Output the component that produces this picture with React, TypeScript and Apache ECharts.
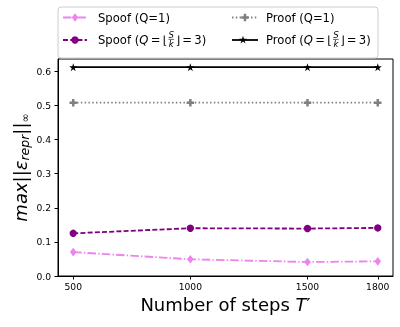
import React, { useEffect, useRef } from "react";
import * as echarts from "echarts";

const steps = [500, 1000, 1500, 1800];
const spoofQ1 = [0.07, 0.049, 0.041, 0.043];
const spoofQ3 = [0.125, 0.14, 0.139, 0.141];
const proofQ1 = [0.508, 0.508, 0.508, 0.508];
const proofQ3 = [0.612, 0.612, 0.612, 0.612];
const xTicks = [500, 1000, 1500, 1800];
const yTicks = [0, 0.1, 0.2, 0.3, 0.4, 0.5, 0.6];

const FONT = "DejaVu Sans";
const TS = "\u2009";

function starPts(cx: number, cy: number, r: number): number[][] {
  const pts: number[][] = [];
  for (let i = 0; i < 10; i++) {
    const rr = i % 2 === 0 ? r : r * 0.382;
    const a = -Math.PI / 2 + (i * Math.PI) / 5;
    pts.push([cx + rr * Math.cos(a), cy + rr * Math.sin(a)]);
  }
  return pts;
}
function starPath(): string {
  const p = starPts(0, 0, 10);
  return "path://M" + p.map((q) => q[0].toFixed(2) + "," + q[1].toFixed(2)).join("L") + "Z";
}
const plusPath = "path://M-1,-3H1V-1H3V1H1V3H-1V1H-3V-1H-1Z";
function plusPts(cx: number, cy: number, s: number): number[][] {
  const a = s / 6;
  const raw = [[-1, -3], [1, -3], [1, -1], [3, -1], [3, 1], [1, 1], [1, 3], [-1, 3], [-1, 1], [-3, 1], [-3, -1], [-1, -1]];
  return raw.map((q) => [cx + q[0] * a, cy + q[1] * a]);
}

function measure(s: string, size: number, italic = false): number {
  const c = document.createElement("canvas").getContext("2d")!;
  c.font = `${italic ? "italic " : ""}${size}px "${FONT}"`;
  return c.measureText(s).width;
}

export default function App() {
  const ref = useRef<HTMLDivElement>(null);
  useEffect(() => {
    const chart = echarts.init(ref.current!, null, { renderer: "svg" });
    const LS = 11.6;
    const LW = 1.8;
    const row1 = 17.5;
    const row2 = 40;
    const c1 = { l0: 63, l1: 87, m: 75, t: 98 };
    const c2 = { l0: 232, l1: 258, m: 245, t: 266 };

    const graphics: any[] = [];
    graphics.push({
      type: "rect",
      shape: { x: 58, y: 7, width: 320, height: 51, r: 3 },
      style: { fill: "rgba(255,255,255,0.85)", stroke: "#cccccc", lineWidth: 1 },
      z: 100,
    });
    const handle = (c: any, y: number, color: string, dash: any) => {
      graphics.push({
        type: "line",
        shape: { x1: c.l0, y1: y, x2: c.l1, y2: y },
        style: { stroke: color, lineWidth: LW, lineDash: dash },
        z: 101,
      });
    };
    handle(c1, row1, "#ee82ee", [8.5, 2.2, 1.4, 2.2]);
    graphics.push({
      type: "polygon",
      shape: { points: [[c1.m, row1 - 4.3], [c1.m + 3.2, row1], [c1.m, row1 + 4.3], [c1.m - 3.2, row1]] },
      style: { fill: "#ee82ee" },
      z: 102,
    });
    handle(c1, row2, "#800080", [5, 2.2]);
    graphics.push({ type: "circle", shape: { cx: c1.m, cy: row2, r: 3.7 }, style: { fill: "#800080" }, z: 102 });
    handle(c2, row1, "#808080", [1.5, 2.3]);
    graphics.push({ type: "polygon", shape: { points: plusPts(c2.m, row1, 7.5) }, style: { fill: "#808080" }, z: 102 });
    handle(c2, row2, "#000000", null);
    graphics.push({ type: "polygon", shape: { points: starPts(c2.m - 2, row2, 4.2) }, style: { fill: "#000000" }, z: 102 });

    const richBase = {
      n: { fontFamily: FONT, fontSize: LS, color: "#000" },
      i: { fontFamily: FONT, fontSize: LS, fontStyle: "italic", color: "#000" },
    };
    graphics.push({
      type: "text",
      x: c1.t,
      y: row1,
      style: { text: "Spoof (Q=1)", fontFamily: FONT, fontSize: LS, fill: "#000", verticalAlign: "middle", align: "left" },
      z: 103,
    });
    graphics.push({
      type: "text",
      x: c2.t,
      y: row1,
      style: { text: "Proof (Q=1)", fontFamily: FONT, fontSize: LS, fill: "#000", verticalAlign: "middle", align: "left" },
      z: 103,
    });
    const mathLabel = (word: string, x0: number) => {
      const pre = word + " (";
      const mid = TS + "=" + TS + "⌊";
      const wA = measure(pre, LS) + measure("Q", LS, true) + measure(mid, LS);
      graphics.push({
        type: "text",
        x: x0,
        y: row2,
        style: { text: `{n|${pre}}{i|Q}{n|${mid}}`, rich: richBase, verticalAlign: "middle", align: "left" },
        z: 103,
      });
      const fw = 7;
      const fx = x0 + wA + fw / 2 + 0.6;
      graphics.push({
        type: "text",
        x: fx,
        y: row2 - 5,
        style: { text: "S", fontFamily: FONT, fontSize: 8.5, fontStyle: "italic", fill: "#000", align: "center", verticalAlign: "middle" },
        z: 103,
      });
      graphics.push({
        type: "text",
        x: fx,
        y: row2 + 4.2,
        style: { text: "k", fontFamily: FONT, fontSize: 8.5, fontStyle: "italic", fill: "#000", align: "center", verticalAlign: "middle" },
        z: 103,
      });
      graphics.push({
        type: "line",
        shape: { x1: fx - 2.8, y1: row2 - 0.6, x2: fx + 2.8, y2: row2 - 0.6 },
        style: { stroke: "#000", lineWidth: 0.6 },
        z: 103,
      });
      graphics.push({
        type: "text",
        x: x0 + wA + fw + 1.2,
        y: row2,
        style: { text: "⌋" + TS + "=" + TS + "3)", fontFamily: FONT, fontSize: LS, fill: "#000", verticalAlign: "middle", align: "left" },
        z: 103,
      });
    };
    mathLabel("Spoof", c1.t);
    mathLabel("Proof", c2.t);

    graphics.push({
      type: "text",
      x: 20,
      y: 167.5,
      rotation: Math.PI / 2,
      style: {
        text: "{a|max}{b|||}{a|ε}{s|repr}{b|||}{t|∞}",
        align: "center",
        verticalAlign: "middle",
        rich: {
          a: { fontFamily: FONT, fontSize: 18, fontStyle: "italic", color: "#000", lineHeight: 22 },
          b: { fontFamily: FONT, fontSize: 18, color: "#000", lineHeight: 22 },
          s: { fontFamily: FONT, fontSize: 12.5, fontStyle: "italic", color: "#000", lineHeight: 12, verticalAlign: "bottom" },
          t: { fontFamily: FONT, fontSize: 11, color: "#000", lineHeight: 10, verticalAlign: "bottom" },
        },
      },
    });

    const mk = (vals: number[]) => steps.map((s, k) => [s, vals[k]]);

    chart.setOption({
      animation: false,
      grid: { left: 58, right: 7, top: 59, bottom: 51, show: true, borderColor: "#000", borderWidth: 1, backgroundColor: "transparent" },
      xAxis: {
        type: "value",
        min: 435,
        max: 1865,
        axisLine: { show: true, lineStyle: { color: "#000", width: 1 } },
        axisTick: { show: true, customValues: xTicks, length: 3.5, lineStyle: { color: "#000", width: 1 } },
        axisLabel: { customValues: xTicks, fontFamily: FONT, fontSize: 9.2, color: "#000", margin: 6, formatter: (v: number) => String(v) },
        splitLine: { show: false },
        name: "{n|Number of steps }{t|T}{n|′}",
        nameLocation: "middle",
        nameGap: 18,
        nameTextStyle: {
          rich: {
            n: { fontFamily: FONT, fontSize: 18, color: "#000" },
            t: { fontFamily: FONT, fontSize: 18, fontStyle: "italic", color: "#000" },
          },
        },
      },
      yAxis: {
        type: "value",
        min: 0,
        max: 0.636,
        axisLine: { show: true, lineStyle: { color: "#000", width: 1 } },
        axisTick: { show: true, customValues: yTicks, length: 3.5, lineStyle: { color: "#000", width: 1 } },
        axisLabel: {
          customValues: yTicks,
          fontFamily: FONT,
          fontSize: 9.2,
          color: "#000",
          margin: 7,
          formatter: (v: number) => v.toFixed(1),
        },
        splitLine: { show: false },
      },
      series: [
        {
          name: "Spoof (Q=1)",
          type: "line",
          data: mk(spoofQ1),
          symbol: "diamond",
          symbolSize: [6.5, 8.6],
          itemStyle: { color: "#ee82ee" },
          lineStyle: { color: "#ee82ee", width: LW, type: [8.5, 2.2, 1.4, 2.2] },
        },
        {
          name: "Spoof (Q=3)",
          type: "line",
          data: mk(spoofQ3),
          symbol: "circle",
          symbolSize: 7.4,
          itemStyle: { color: "#800080" },
          lineStyle: { color: "#800080", width: LW, type: [5, 2.2] },
        },
        {
          name: "Proof (Q=1)",
          type: "line",
          data: mk(proofQ1),
          symbol: plusPath,
          symbolSize: 7.5,
          itemStyle: { color: "#808080" },
          lineStyle: { color: "#808080", width: LW, type: [1.5, 2.3] },
        },
        {
          name: "Proof (Q=3)",
          type: "line",
          data: mk(proofQ3),
          symbol: starPath(),
          symbolSize: 8,
          itemStyle: { color: "#000" },
          lineStyle: { color: "#000", width: LW },
        },
      ],
      graphic: graphics,
    });
    return () => chart.dispose();
  }, []);
  return <div ref={ref} style={{ position: "fixed", left: 0, top: 0, width: 400, height: 327 }} />;
}
